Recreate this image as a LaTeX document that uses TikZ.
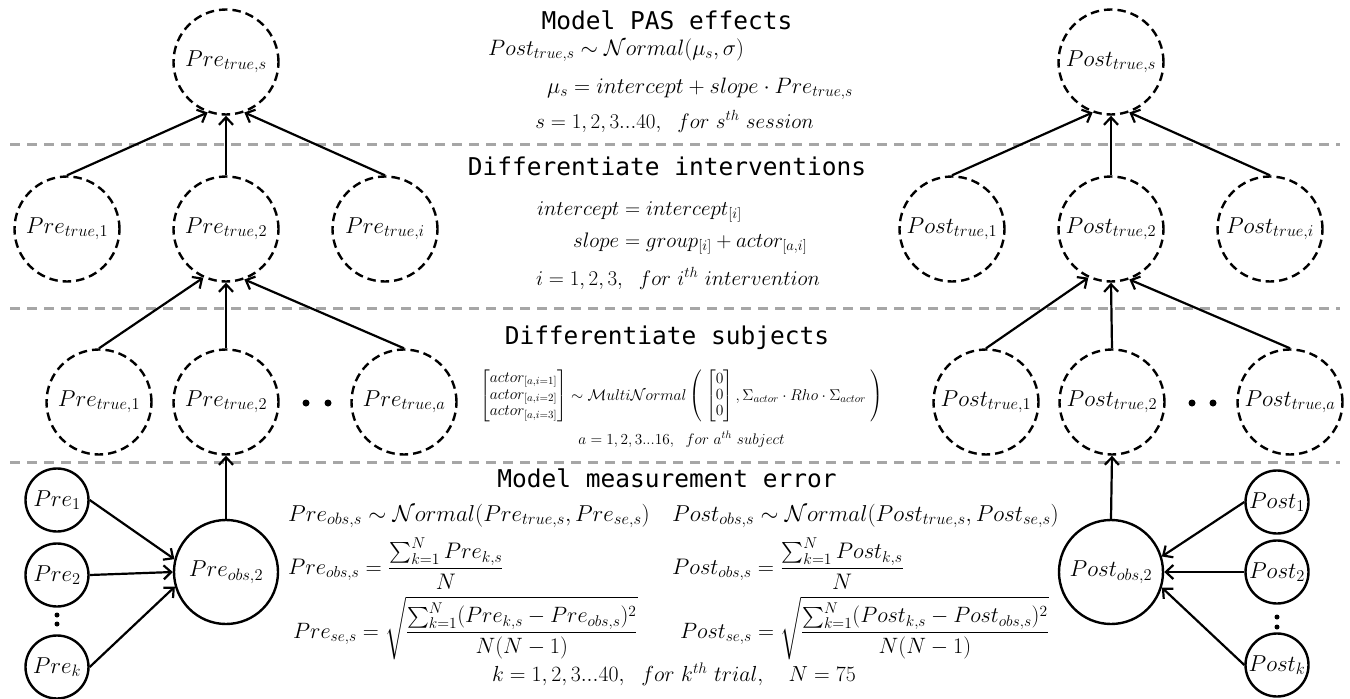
\RequirePackage{fix-cm}
\documentclass[tikz,border=0pt]{standalone}
\usepackage{amsmath}
\usepackage{fontspec}
\newfontfamily\headfont{DejaVu Sans Mono}
\usetikzlibrary{arrows.meta}
\DeclareMathSizes{23}{23}{16.5}{12}
\newcommand\nfs{\fontsize{23}{27}\selectfont}
\newcommand\qfs{\fontsize{22.5}{26}\selectfont}
\newcommand\rfs{\fontsize{22.2}{26}\selectfont}
\newcommand\afs{\fontsize{22.3}{26}\selectfont}
\newcommand\mfs{\fontsize{21}{25}\selectfont}
\newcommand\bfsz{\fontsize{21.8}{26}\selectfont}
\newcommand\sfsz{\fontsize{15.3}{18}\selectfont}
\newcommand\xfsz{\fontsize{15.6}{18}\selectfont}
\newcommand\hfs{\headfont\fontsize{24.5}{29}\selectfont}
\tikzset{
  latent/.style={circle, draw, line width=2.4pt, dash pattern=on 8.5pt off 5pt, minimum size=105pt, inner sep=0pt, font=\nfs},
  obsnode/.style={circle, draw, line width=2.4pt, minimum size=104pt, inner sep=0pt, font=\nfs},
  trialnode/.style={circle, draw, line width=2.4pt, minimum size=63pt, inner sep=0pt, font=\nfs},
  arr/.style={line width=2.2pt, -{Straight Barb[length=7.5pt,width=14pt]}},
  sep/.style={draw=black!35, line width=3pt, dash pattern=on 10pt off 7pt},
  lft/.style={anchor=base west, inner sep=0pt, font=\mfs},
  ctr/.style={anchor=base, inner sep=0pt, font=\mfs},
  head/.style={anchor=base, inner sep=0pt, font=\hfs},
  dotfill/.style={fill=black}
}
\begin{document}
\begin{tikzpicture}[x=1pt,y=-1pt]
\useasboundingbox (0,0) rectangle (1350,699);
% separators
\coordinate (s1a) at (10,144); \coordinate (s1b) at (1340,144);
\coordinate (s2a) at (10,308); \coordinate (s2b) at (1340,308);
\coordinate (s3a) at (10,462); \coordinate (s3b) at (1340,462);
\draw[sep] (s1a) -- (s1b);
\draw[sep] (s2a) -- (s2b);
\draw[sep] (s3a) -- (s3b);

% headings
\node[head] (h1) at (667,29) {Model PAS effects};
\node[head] (h2) at (667,175) {Differentiate interventions};
\node[head] (h3) at (667,344) {Differentiate subjects};
\node[head] (h4) at (667,487) {Model measurement error};

% top formulas
\node[lft, font=\afs] (f1) at (488,55) {$Post_{true,s}\sim\mathcal{N}ormal(\mu_s,\sigma)$};
\node[lft, font=\afs] (f2) at (547,93) {$\mu_s=intercept+slope\cdot Pre_{true,s}$};
\node[ctr] (f3) at (674.5,128) {$s=1,2,3...40,\ \ for\ s^{th}\ session$};

% intervention formulas
\node[lft] (g1) at (537,215) {$intercept=intercept_{[i]}$};
\node[lft] (g2) at (573,247) {$slope=group_{[i]}+actor_{[a,i]}$};
\node[ctr] (g3) at (678,285) {$i=1,2,3,\ \ for\ i^{th}\ intervention$};

% subject formulas
\node[ctr, font=\xfsz] (k1) at (681.5,400) {\renewcommand{\arraystretch}{0.9}$\begin{bmatrix}actor_{[a,i=1]}\\ actor_{[a,i=2]}\\ actor_{[a,i=3]}\end{bmatrix}\sim\mathcal{M}ulti\mathcal{N}ormal\left(\;\begin{bmatrix}0\\0\\0\end{bmatrix},\Sigma_{actor}\cdot Rho\cdot\Sigma_{actor}\;\right)$};
\node[ctr, font=\sfsz] (k2) at (681.5,444) {$a=1,2,3...16,\ \ for\ a^{th}\ subject$};

% measurement formulas
\node[lft, font=\nfs] (m1) at (288,521) {$Pre_{obs,s}\sim\mathcal{N}ormal(Pre_{true,s},Pre_{se,s})$};
\node[lft, font=\qfs] (m2) at (288,574) {$\displaystyle Pre_{obs,s}=\frac{\sum_{k=1}^{N}Pre_{k,s}}{N}$};
\node[lft, font=\rfs] (m3) at (293,638) {$\displaystyle Pre_{se,s}=\sqrt{\frac{\sum_{k=1}^{N}(Pre_{k,s}-Pre_{obs,s})^2}{N(N-1)}}$};
\node[lft, font=\nfs] (n1) at (672,521) {$Post_{obs,s}\sim\mathcal{N}ormal(Post_{true,s},Post_{se,s})$};
\node[lft, font=\qfs] (n2) at (672,574) {$\displaystyle Post_{obs,s}=\frac{\sum_{k=1}^{N}Post_{k,s}}{N}$};
\node[lft, font=\rfs] (n3) at (680,638) {$\displaystyle Post_{se,s}=\sqrt{\frac{\sum_{k=1}^{N}(Post_{k,s}-Post_{obs,s})^2}{N(N-1)}}$};
\node[ctr, font=\bfsz] (m4) at (674,681) {$k=1,2,3...40,\ \ for\ k^{th}\ trial,\quad N=75$};

% left tree
\node[latent] (PreS) at (226,62) {$Pre_{true,s}$};
\node[latent] (PreI1) at (67,229) {$Pre_{true,1}$};
\node[latent] (PreI2) at (226,229) {$Pre_{true,2}$};
\node[latent] (PreIi) at (385,229) {$Pre_{true,i}$};
\node[latent] (PreA1) at (99,402) {$Pre_{true,1}$};
\node[latent] (PreA2) at (226,402) {$Pre_{true,2}$};
\node[latent] (PreAa) at (404,402) {$Pre_{true,a}$};
\node[obsnode] (PreObs) at (226,572) {$Pre_{obs,2}$};
\node[trialnode] (Pre1) at (57,500) {$Pre_1$};
\node[trialnode] (Pre2) at (57,575) {$Pre_2$};
\node[trialnode] (Prek) at (57,667) {$Pre_k$};
\fill[dotfill] (306,403) circle (3.5pt);
\fill[dotfill] (328,403) circle (3.5pt);
\fill[dotfill] (57,615) circle (2.5pt);
\fill[dotfill] (57,624) circle (2.5pt);

% right tree
\node[latent] (PostS) at (1111,62) {$Post_{true,s}$};
\node[latent] (PostI1) at (952,229) {$Post_{true,1}$};
\node[latent] (PostI2) at (1111,229) {$Post_{true,2}$};
\node[latent] (PostIi) at (1270,229) {$Post_{true,i}$};
\node[latent] (PostA1) at (986,402) {$Post_{true,1}$};
\node[latent] (PostA2) at (1112,402) {$Post_{true,2}$};
\node[latent] (PostAa) at (1290,402) {$Post_{true,a}$};
\node[obsnode] (PostObs) at (1111,572) {$Post_{obs,2}$};
\node[trialnode] (Post1) at (1277,502) {$Post_1$};
\node[trialnode] (Post2) at (1277,572) {$Post_2$};
\node[trialnode] (Postk) at (1277,665) {$Post_k$};
\fill[dotfill] (1192,403) circle (3.5pt);
\fill[dotfill] (1213,403) circle (3.5pt);
\fill[dotfill] (1277,617) circle (2.5pt);
\fill[dotfill] (1277,627) circle (2.5pt);

% arrows left
\draw[arr] (PreI1.north) -- (PreS.-110);
\draw[arr] (PreI2.north) -- (PreS.-90);
\draw[arr] (PreIi.north) -- (PreS.-70);
\draw[arr] (PreA1.north) -- (PreI2.-115);
\draw[arr] (PreA2.north) -- (PreI2.-90);
\draw[arr] (PreAa.north) -- (PreI2.-70);
\draw[arr] (PreObs.north) -- (PreA2.south);
\draw[arr] (Pre1.east) -- (PreObs.166);
\draw[arr] (Pre2.east) -- (PreObs.180);
\draw[arr] (Prek.east) -- (PreObs.196);

% arrows right
\draw[arr] (PostI1.north) -- (PostS.-110);
\draw[arr] (PostI2.north) -- (PostS.-90);
\draw[arr] (PostIi.north) -- (PostS.-70);
\draw[arr] (PostA1.north) -- (PostI2.-115);
\draw[arr] (PostA2.north) -- (PostI2.-90);
\draw[arr] (PostAa.north) -- (PostI2.-70);
\draw[arr] (PostObs.north) -- (PostA2.south);
\draw[arr] (Post1.west) -- (PostObs.17);
\draw[arr] (Post2.west) -- (PostObs.0);
\draw[arr] (Postk.west) -- (PostObs.-17);
\end{tikzpicture}
\end{document}
